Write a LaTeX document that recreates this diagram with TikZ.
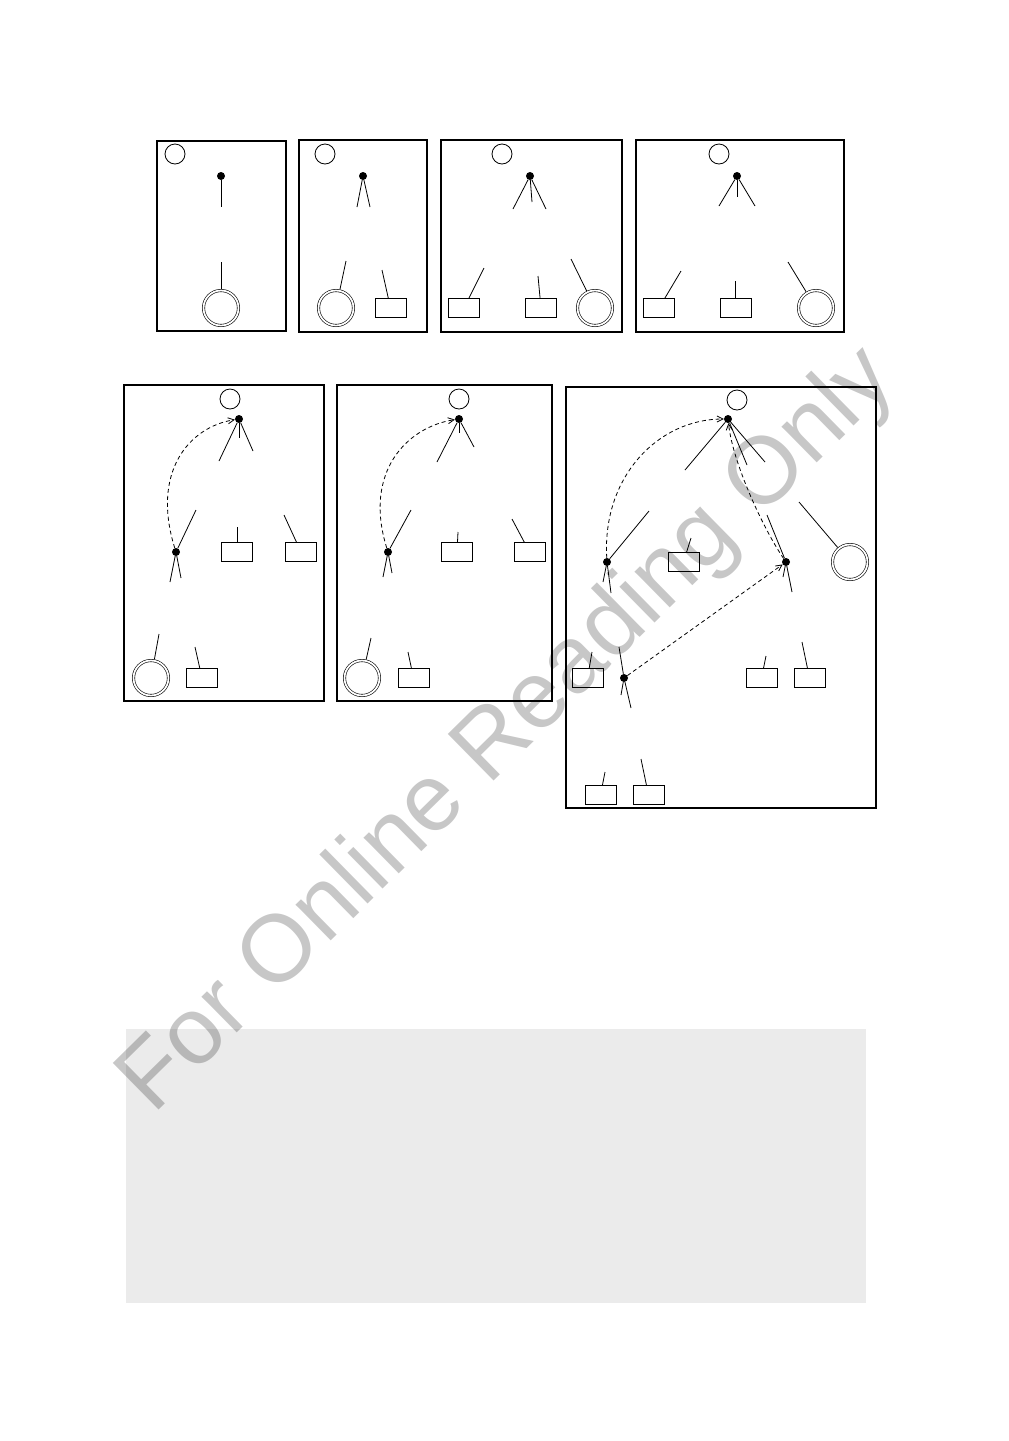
\documentclass[tikz,border=0pt]{standalone}
\usepackage{fontspec}
\newfontfamily\markfont{Liberation Sans}
\usepackage{tikz}
\usetikzlibrary{arrows.meta, positioning}
\usepackage{xcolor}
\definecolor{panelgrey}{RGB}{235,235,235}
\tikzstyle{frame} = [line width=1.6pt]
\tikzstyle{dot} = [circle, fill=black, inner sep=0pt, minimum size=8pt]
\tikzstyle{leaf} = [circle, draw, line width=0.8pt, inner sep=0pt, minimum size=20pt]
\tikzstyle{final} = [circle, draw, double, line width=0.6pt, double distance=1.8pt, inner sep=0pt, outer sep=1.5pt, minimum size=35pt]
\tikzstyle{box} = [rectangle, draw, line width=0.8pt, inner sep=0pt, minimum width=31pt, minimum height=18.5pt]
\tikzstyle{stub} = [line width=0.8pt]
\tikzstyle{link} = [line width=0.8pt, dash pattern=on 4pt off 3pt, -{Straight Barb[length=6pt,width=6pt]}]

\begin{document}
\begin{tikzpicture}[x=1pt, y=-1pt]
  \useasboundingbox (0,0) rectangle (1009,1441);
  \fill[white] (0,0) rectangle (1009,1441);

  % Frames
  \draw[frame] (157,141) rectangle (286,331);
  \draw[frame] (299,140) rectangle (427,332);
  \draw[frame] (441,140) rectangle (622,332);
  \draw[frame] (636,140) rectangle (844,332);
  \draw[frame] (124,385) rectangle (324,701);
  \draw[frame, line width=2pt] (337,385) rectangle (552,701);
  \draw[frame] (566,387) rectangle (876,808);
  \fill[panelgrey] (126,1029) rectangle (866,1303);

  % Panel 1
  \node[leaf] (p1r) at (175,154) {};
  \node[dot] (p1a) at (221,176) {};
  \node[final] (p1f) at (221,308) {};
  \draw[stub] (p1a) -- ++(0,31);
  \draw[stub] (p1f) -- ++(0,-46);

  % Panel 2
  \node[leaf] (p2r) at (325,154) {};
  \node[dot] (p2a) at (363,176) {};
  \node[final] (p2f) at (336,308) {};
  \node[box] (p2b) at (390.5,308) {};
  \draw[stub] (p2a) -- ++(-6,31);
  \draw[stub] (p2a) -- ++(7,31);
  \draw[stub] (p2f) -- ++(10,-47);
  \draw[stub] (p2b) -- ++(-8.5,-38);

  % Panel 3
  \node[leaf] (p3r) at (502,154) {};
  \node[dot] (p3a) at (530,176) {};
  \node[box] (p3b) at (464,308) {};
  \node[box] (p3c) at (541,308) {};
  \node[final] (p3f) at (595,308) {};
  \draw[stub] (p3a) -- ++(-17,33);
  \draw[stub] (p3a) -- ++(2,26);
  \draw[stub] (p3a) -- ++(16,33);
  \draw[stub] (p3b) -- ++(20,-40);
  \draw[stub] (p3c) -- ++(-3,-32);
  \draw[stub] (p3f) -- ++(-24,-49);

  % Panel 4
  \node[leaf] (p4r) at (719,154) {};
  \node[dot] (p4a) at (737,176) {};
  \node[box] (p4b) at (659,308) {};
  \node[box] (p4c) at (735.5,308) {};
  \node[final] (p4f) at (816,308) {};
  \draw[stub] (p4a) -- ++(-18,30);
  \draw[stub] (p4a) -- ++(0,21);
  \draw[stub] (p4a) -- ++(18,30);
  \draw[stub] (p4b) -- ++(22,-37);
  \draw[stub] (p4c) -- ++(0,-27);
  \draw[stub] (p4f) -- ++(-28,-46);

  % Panel 5
  \node[leaf] (p5r) at (230,399) {};
  \node[dot] (p5a) at (239,419) {};
  \node[dot] (p5b) at (176,552) {};
  \node[box] (p5c) at (237,552) {};
  \node[box] (p5d) at (301,552) {};
  \node[final] (p5f) at (151,678) {};
  \node[box] (p5e) at (202,678) {};
  \draw[stub] (p5a) -- ++(-20,42);
  \draw[stub] (p5a) -- ++(0,19);
  \draw[stub] (p5a) -- ++(14,32);
  \draw[stub] (p5b) -- ++(20,-42);
  \draw[stub] (p5b) -- ++(-6,30);
  \draw[stub] (p5b) -- ++(5,26);
  \draw[stub] (p5c) -- ++(0,-25);
  \draw[stub] (p5d) -- ++(-17,-37);
  \draw[stub] (p5f) -- ++(8,-44);
  \draw[stub] (p5e) -- ++(-7,-31);
  \draw[link] (p5b) .. controls +(-25,-80) and +(-50,8) .. (p5a);

  % Panel 6
  \node[leaf] (p6r) at (459,399) {};
  \node[dot] (p6a) at (459,419) {};
  \node[dot] (p6b) at (388,552) {};
  \node[box] (p6c) at (457,552) {};
  \node[box] (p6d) at (529.5,552) {};
  \node[final] (p6f) at (362,678) {};
  \node[box] (p6e) at (413.5,678) {};
  \draw[stub] (p6a) -- ++(-22,43);
  \draw[stub] (p6a) -- ++(0,14);
  \draw[stub] (p6a) -- ++(15,28);
  \draw[stub] (p6b) -- ++(23,-42);
  \draw[stub] (p6b) -- ++(-5,25);
  \draw[stub] (p6b) -- ++(4,21);
  \draw[stub] (p6c) -- ++(1,-20);
  \draw[stub] (p6d) -- ++(-17.5,-33);
  \draw[stub] (p6f) -- ++(9,-40);
  \draw[stub] (p6e) -- ++(-5.5,-26);
  \draw[link] (p6b) .. controls +(-25,-80) and +(-52,8) .. (p6a);

  % Panel 7
  \node[leaf] (p7r) at (737,400) {};
  \node[dot] (p7a) at (728,419) {};
  \node[dot] (p7b) at (607,562) {};
  \node[dot] (p7c) at (786,562) {};
  \node[dot] (p7d) at (624,678) {};
  \node[box] (p7e) at (683.5,562) {};
  \node[final] (p7f) at (850,562) {};
  \node[box] (p7g) at (587.5,678) {};
  \node[box] (p7h) at (761.5,678) {};
  \node[box] (p7i) at (809.5,678) {};
  \node[box] (p7j) at (600.5,795) {};
  \node[box] (p7k) at (648.5,795) {};
  \draw[stub] (p7a) -- ++(-43,51);
  \draw[stub] (p7a) -- ++(19,46);
  \draw[stub] (p7a) -- ++(37,43);
  \draw[stub] (p7b) -- ++(42,-51);
  \draw[stub] (p7b) -- ++(-4,20);
  \draw[stub] (p7b) -- ++(4,31);
  \draw[stub] (p7c) -- ++(-19,-47);
  \draw[stub] (p7c) -- ++(-3,15);
  \draw[stub] (p7c) -- ++(6,30);
  \draw[stub] (p7d) -- ++(-5,-31);
  \draw[stub] (p7d) -- ++(-3,17);
  \draw[stub] (p7d) -- ++(7,30);
  \draw[stub] (p7e) -- ++(7.5,-24);
  \draw[stub] (p7f) -- ++(-51,-60);
  \draw[stub] (p7g) -- ++(4.5,-26);
  \draw[stub] (p7h) -- ++(4.5,-22);
  \draw[stub] (p7i) -- ++(-7.5,-36);
  \draw[stub] (p7j) -- ++(4.5,-23);
  \draw[stub] (p7k) -- ++(-7.5,-36);
  \draw[link] (p7b) .. controls +(-5,-85) and +(-70,0) .. (p7a);
  \draw[link] (p7c) .. controls +(-22,-32) and +(5,45) .. (p7a);
  \draw[link] (p7d) -- (p7c);

  % Watermark
  \node[rotate=44.5, anchor=base, inner sep=0pt, text=black, text opacity=0.22,
    font=\markfont\fontsize{95}{95}\selectfont] (mark) at (526,749) {For Online Reading Only};
\end{tikzpicture}
\end{document}
